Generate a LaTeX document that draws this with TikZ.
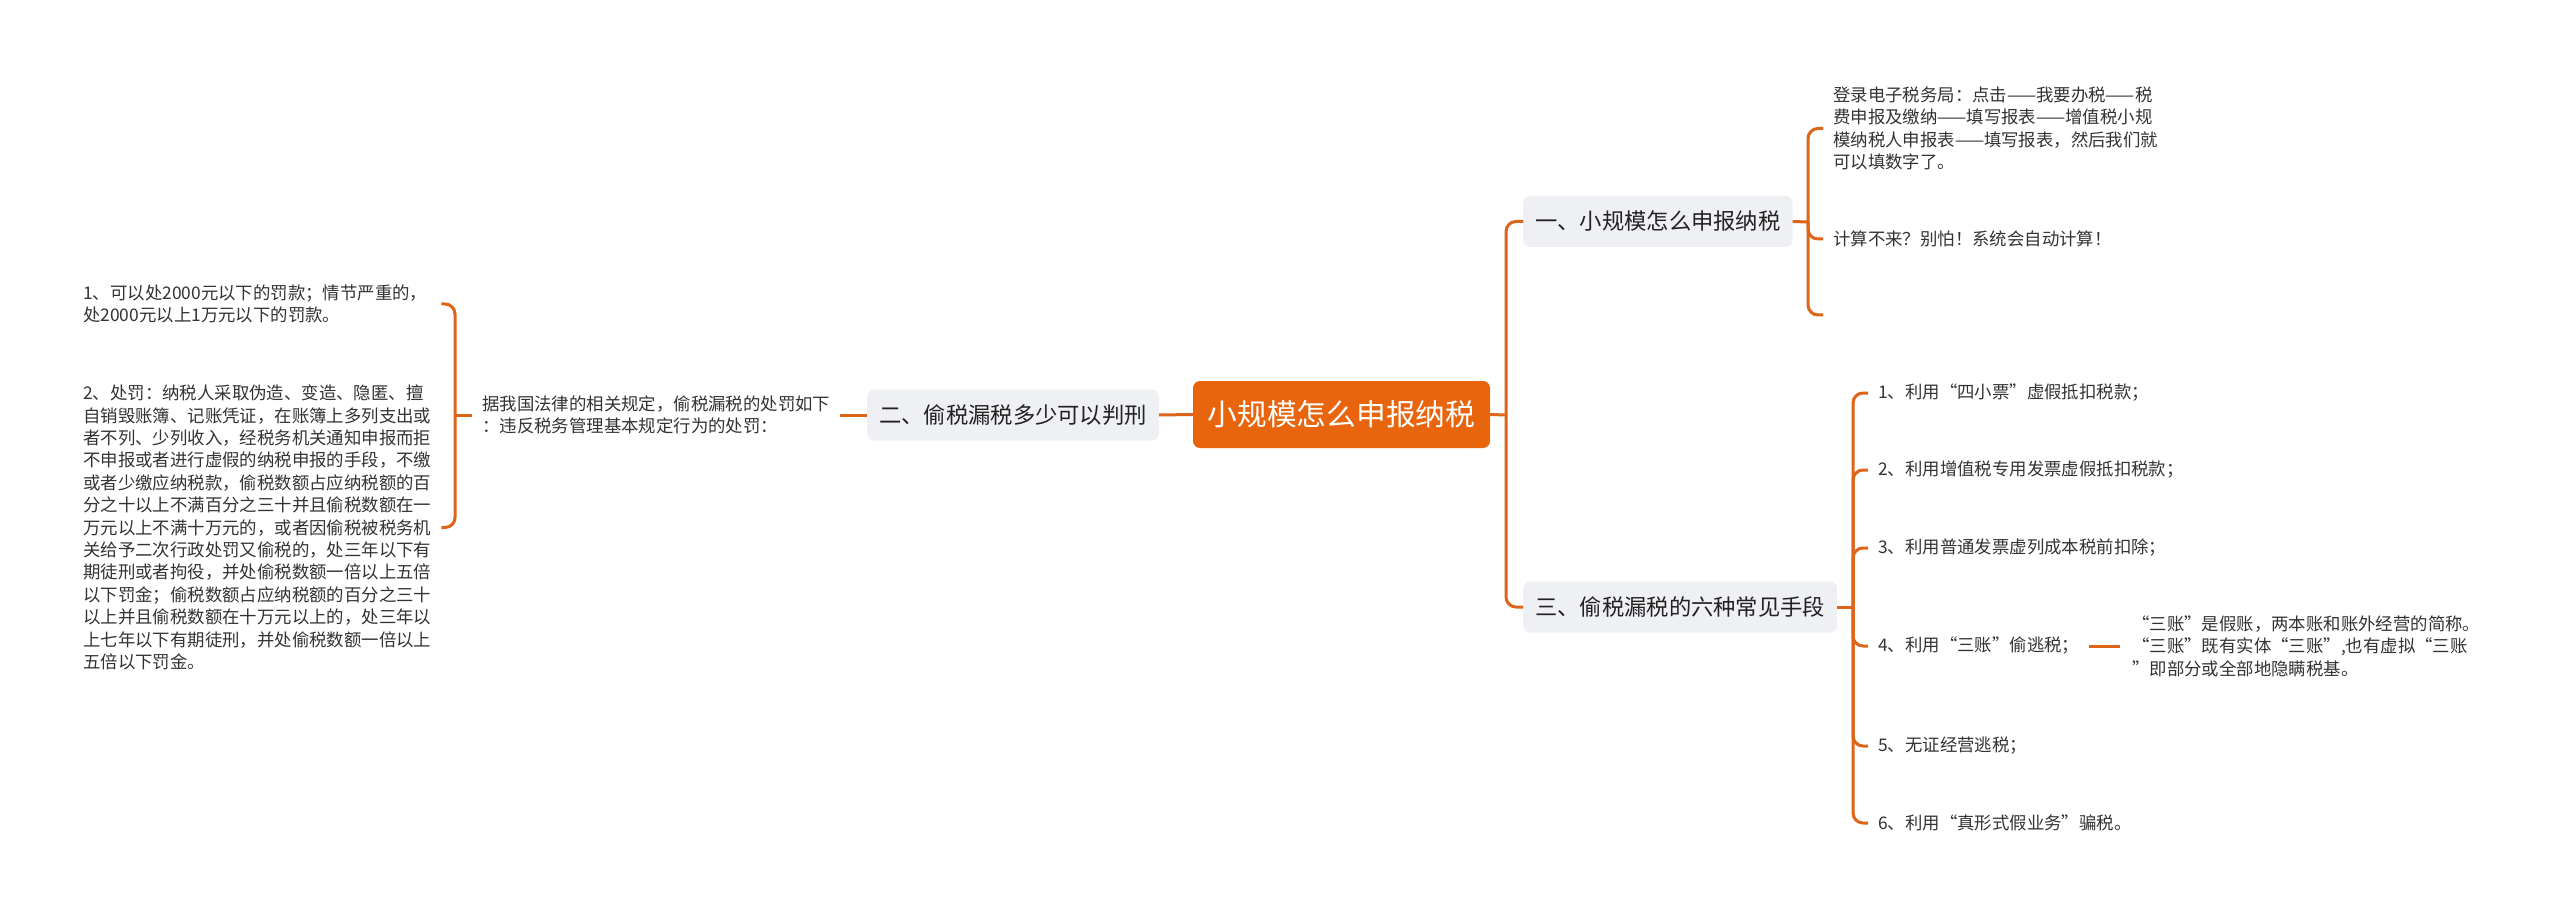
\documentclass[tikz,border=0pt]{standalone}
\usepackage{fontspec}
\newfontfamily\cjk{Noto Sans CJK SC}
\definecolor{rootfill}{RGB}{232,101,14}
\definecolor{linec}{RGB}{222,100,25}
\definecolor{boxfill}{RGB}{238,240,243}
\definecolor{txt}{RGB}{51,51,51}
\definecolor{btxt}{RGB}{34,34,34}
\begin{document}
\begin{tikzpicture}[x=1pt,y=-1pt,
  conn/.style={draw=linec, line width=3pt},
  rc/.style={conn, rounded corners=10pt},
  rootbox/.style={fill=rootfill, rounded corners=7pt, text=white, font=\cjk\fontsize{29.7}{36}\selectfont, minimum height=67pt, minimum width=297pt, inner xsep=13pt, inner ysep=0pt},
  branch/.style={fill=boxfill, rounded corners=7pt, text=btxt, font=\cjk\fontsize{22.3}{27}\selectfont, minimum height=51pt, inner xsep=12pt, inner ysep=0pt},
  leaf/.style={text=txt, font=\cjk\fontsize{17.4}{22.4}\selectfont, align=left, inner xsep=10pt, inner ysep=2pt},
]
\useasboundingbox (0,0) rectangle (2560,917);
\fill[white] (0,0) rectangle (2560,917);

\node[rootbox] (root) at (1341.5,414.5) {小规模怎么申报纳税};
\node[branch, anchor=west] (b1) at (1523,221.5) {一、小规模怎么申报纳税};
\node[branch, anchor=east] (b2) at (1159,415) {二、偷税漏税多少可以判刑};
\node[branch, anchor=west] (b3) at (1523,607) {三、偷税漏税的六种常见手段};

\coordinate (jr) at (1506,415);
\coordinate (j1) at (1808,222);
\coordinate (j3) at (1853,607);
\coordinate (jl) at (455,415);

\node[leaf, anchor=west] (c11) at (1823,128.5) {登录电子税务局：点击——我要办税——税\\费申报及缴纳——填写报表——增值税小规\\模纳税人申报表——填写报表，然后我们就\\可以填数字了。};
\node[leaf, anchor=west] (c12) at (1823,239) {计算不来？别怕！系统会自动计算！};
\coordinate (c13) at (1823,315);

\node[leaf, anchor=west] (r1) at (1868,393) {1、利用“四小票”虚假抵扣税款；};
\node[leaf, anchor=west] (r2) at (1868,470) {2、利用增值税专用发票虚假抵扣税款；};
\node[leaf, anchor=west] (r3) at (1868,548) {3、利用普通发票虚列成本税前扣除；};
\node[leaf, anchor=west] (r4) at (1868,646) {4、利用“三账”偷逃税；};
\node[leaf, anchor=west] (r5) at (1868,746) {5、无证经营逃税；};
\node[leaf, anchor=west] (r6) at (1868,823) {6、利用“真形式假业务”骗税。};
\node[leaf, anchor=west, inner xsep=12pt] (r4c) at (2120,646) {“三账”是假账，两本账和账外经营的简称。\\“三账”既有实体“三账”,也有虚拟“三账\\”即部分或全部地隐瞒税基。};

\node[leaf, anchor=west] (lc) at (472,415) {据我国法律的相关规定，偷税漏税的处罚如下\\：违反税务管理基本规定行为的处罚：};
\node[leaf, anchor=west, text width=348pt] (L1) at (73,304) {1、可以处2000元以下的罚款；情节严重的，\\处2000元以上1万元以下的罚款。};
\node[leaf, anchor=west, text width=348pt] (L2) at (73,527.5) {2、处罚：纳税人采取伪造、变造、隐匿、擅\\自销毁账簿、记账凭证，在账簿上多列支出或\\者不列、少列收入，经税务机关通知申报而拒\\不申报或者进行虚假的纳税申报的手段，不缴\\或者少缴应纳税款，偷税数额占应纳税额的百\\分之十以上不满百分之三十并且偷税数额在一\\万元以上不满十万元的，或者因偷税被税务机\\关给予二次行政处罚又偷税的，处三年以下有\\期徒刑或者拘役，并处偷税数额一倍以上五倍\\以下罚金；偷税数额占应纳税额的百分之三十\\以上并且偷税数额在十万元以上的，处三年以\\上七年以下有期徒刑，并处偷税数额一倍以上\\五倍以下罚金。};

\draw[conn] (root.west) -- (b2.east);
\draw[conn] (root.east) -- (jr);
\draw[rc] (jr) |- (b1.west);
\draw[rc] (jr) |- (b3.west);
\draw[conn] (b1.east) -- (j1);
\draw[rc] (j1) |- (c11.west);
\draw[rc] (j1) |- (c12.west);
\draw[rc] (j1) |- (c13);
\draw[conn] (b3.east) -- (j3);
\foreach \i in {1,...,6} { \draw[rc] (j3) |- (r\i.west); }
\draw[conn] (r4.east) -- (r4c.west);
\draw[conn] (b2.west) -- (lc.east);
\draw[conn] (lc.west) -- (jl);
\draw[rc] (jl) |- (L1.east);
\draw[rc] (jl) |- (L2.east);
\end{tikzpicture}
\end{document}
